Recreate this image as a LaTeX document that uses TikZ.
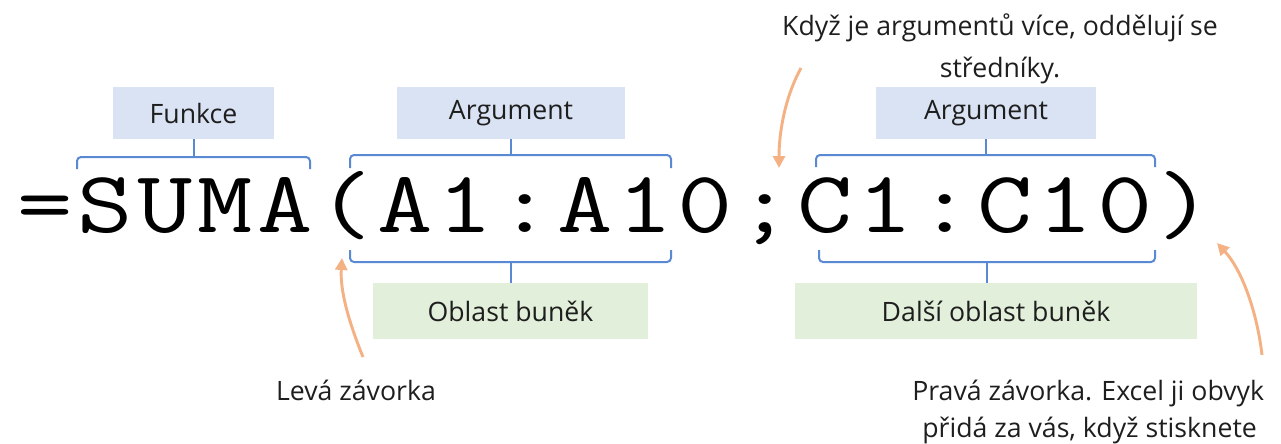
\documentclass[tikz,border=0pt]{standalone}
\usepackage{fontspec}
\setmainfont{Open Sans}
\usepackage{graphicx}
\usetikzlibrary{arrows.meta}
\definecolor{boxblue}{RGB}{218,227,243}
\definecolor{boxgreen}{RGB}{226,239,218}
\definecolor{bracecol}{RGB}{90,137,212}
\definecolor{arrowcol}{RGB}{244,177,131}
\definecolor{textcol}{RGB}{30,30,30}
\tikzset{
  lbl/.style={font=\fontsize{20}{24}\selectfont, text=textcol, inner sep=0pt},
  bluebox/.style={lbl, fill=boxblue, minimum height=39pt, minimum width={#1*0.75pt}},
  greenbox/.style={lbl, fill=boxgreen, minimum height=42pt, minimum width={#1*0.75pt}},
  fchar/.style={font=\ttfamily\fontsize{66}{66}\selectfont, anchor=base, inner sep=0pt},
  bracepath/.style={draw=bracecol, line width=1.5pt, rounded corners=3pt},
  callout/.style={draw=arrowcol, line width=2.2pt, -{Triangle[length=9pt,width=9pt]}},
}
% one brace: left x, right x, line y, end y, tick end y
\newcommand{\groupbrace}[5]{%
  \draw[bracepath] (#1,#4) -- (#1,#3) -- (#2,#3) -- (#2,#4);
  \draw[bracepath] ({(#1+#2)/2},#3) -- ({(#1+#2)/2},#5);
}
\begin{document}
\begin{tikzpicture}[x=0.75pt,y=-0.75pt]
\useasboundingbox (0,0) rectangle (1281,443);
\clip (0,0) rectangle (1281,443);

% the formula, one character per monospace cell
\foreach \ch [count=\k from 0] in {{=},{S},{U},{M},{A},{(},{A},{1},{:},{A},{1},{0},{;},{C},{1},{:},{C},{1},{0},{)}} {
  \node[fchar] (c\k) at ({45+60*\k},232) {\scalebox{1.22}[1]{\ch}};
}

% label boxes
\node[bluebox=161] (funkce) at (193.5,113) {Funkce};
\node[bluebox=228] (arg1) at (511,113) {Argument};
\node[bluebox=220] (arg2) at (986,113) {Argument};
\node[greenbox=275] (obl1) at (510.5,311) {Oblast buněk};
\node[greenbox=402] (obl2) at (996,311) {Další oblast buněk};

% braces
\groupbrace{77}{310}{157}{169}{139}
\groupbrace{350}{671}{155}{168}{139}
\groupbrace{816}{1155}{155}{167}{139}
\groupbrace{350}{671}{262}{250}{283}
\groupbrace{819}{1155}{262}{250}{283}

% annotations
\node[lbl, align=center, font=\fontsize{20}{31.5}\selectfont] (semi) at (1000,49)
  {Když je argumentů více, oddělují se\\středníky.};
\node[lbl] (left) at (356,390) {Levá závorka};
\node[lbl, anchor=west] (right1) at (912,393) {Pravá závorka. Excel ji obvyk};
\node[lbl, anchor=west] (right2) at (922,430) {přidá za vás, když stisknete};

\coordinate (semiS) at (801,68);
\coordinate (semiT) at (779,168);
\coordinate (leftS) at (363,357);
\coordinate (leftT) at (342,258);
\coordinate (rightS) at (1262,355);
\coordinate (rightT) at (1217,243);

\draw[callout] (semiS) .. controls (786,95) and (779,130) .. (semiT);
\draw[callout] (leftS) .. controls (348,320) and (340,290) .. (leftT);
\draw[callout] (rightS) .. controls (1257,312) and (1242,270) .. (rightT);
\end{tikzpicture}
\end{document}
